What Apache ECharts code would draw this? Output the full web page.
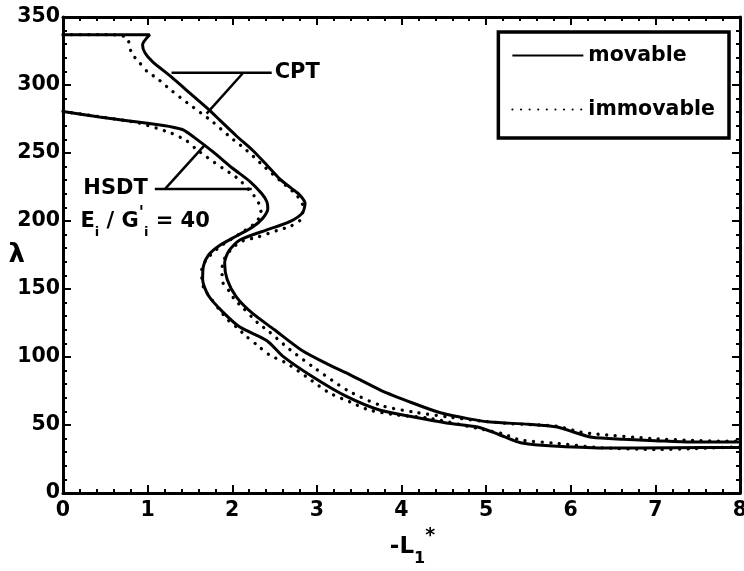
<!DOCTYPE html>
<html>
<head>
<meta charset="utf-8">
<title>Buckling load parameter vs -L1*</title>
<script src="https://cdn.jsdelivr.net/npm/echarts@6/dist/echarts.min.js"></script>
<style>
  html, body { margin: 0; padding: 0; background: #fff; }
  #chart { width: 744px; height: 571px; }
</style>
</head>
<body>
<div id="chart"></div>
<script>
// Axis ranges and tick spacing
const xRange = [0, 8];
const xStep = 1;
const yRange = [0, 350];
const yStep = 50;

// Legend entries
const legendNames = ['movable', 'immovable'];

// Curves: [-L1*, lambda]
const cptMovable = [
  [0, 337], [0.6, 337], [1.025, 337], [0.94, 329.5], [0.97, 323.5], [1.06, 317],
  [1.28, 306], [1.5, 294], [1.73, 281.6], [1.85, 274.3], [2.05, 262.5], [2.24, 252],
  [2.41, 241], [2.56, 231], [2.70, 224], [2.80, 219], [2.86, 213], [2.83, 206],
  [2.68, 199.5], [2.41, 193.5], [2.09, 186], [1.96, 178], [1.91, 169], [1.94, 157],
  [2.05, 144], [2.24, 132], [2.5, 120], [2.82, 105], [3.12, 95], [3.36, 88],
  [3.75, 75.7], [4.14, 66], [4.46, 59], [4.8, 54.5], [5.05, 52.2], [5.5, 50.5],
  [5.84, 48.5], [6.05, 44.5], [6.25, 41], [6.62, 39.5], [7.0, 38.5], [7.42, 37.5], [8, 37.5]
];
const cptImmovable = [
  [0, 337], [0.5, 337], [0.75, 335], [0.81, 323.5], [0.91, 316], [1.0, 309.6],
  [1.11, 305], [1.28, 296], [1.47, 286.8], [1.77, 272.8], [1.97, 262], [2.17, 252],
  [2.36, 241], [2.56, 230], [2.76, 219], [2.84, 210], [2.80, 200.5], [2.68, 196],
  [2.53, 193], [2.29, 188], [2.13, 185.5], [2.0, 180], [1.89, 170], [1.88, 162],
  [1.89, 154.5], [1.97, 148], [2.03, 142], [2.13, 136], [2.23, 129.5], [2.33, 123.5],
  [2.41, 120], [2.68, 105.5], [2.96, 92.5], [3.36, 75.5], [3.75, 64.5], [4.14, 59.5],
  [4.54, 56], [4.93, 53], [5.3, 51], [5.84, 49], [6.1, 45], [6.27, 43.5],
  [6.98, 40], [7.5, 38.5], [8, 38]
];
const hsdtMovable = [
  [0, 280.5], [0.43, 276.5], [1.0, 271.8], [1.3, 269], [1.42, 267], [1.55, 261.5],
  [1.77, 251], [2.0, 239], [2.21, 229], [2.35, 220], [2.41, 214], [2.42, 209],
  [2.36, 202], [2.25, 196], [2.05, 189], [1.85, 182], [1.72, 175], [1.66, 167],
  [1.65, 157], [1.72, 145], [1.89, 133], [2.09, 122], [2.41, 112], [2.6, 100.5],
  [2.95, 85.5], [3.35, 71], [3.74, 61], [4.13, 56], [4.53, 51.5], [4.9, 48.5],
  [5.15, 43], [5.35, 38], [5.5, 36], [5.84, 34.3], [6.43, 33], [7.2, 33.3], [8, 33.5]
];
const hsdtImmovable = [
  [0, 280.5], [0.5, 276], [0.9, 272], [1.26, 265], [1.45, 259.5], [1.58, 252.5],
  [1.70, 247], [1.79, 243], [1.89, 238.7], [1.99, 234.6], [2.09, 230], [2.27, 217.6],
  [2.32, 212], [2.34, 206], [2.28, 199], [2.1, 191], [1.85, 181], [1.7, 172],
  [1.64, 165], [1.64, 156], [1.67, 150], [1.76, 142], [1.85, 134.6], [1.95, 127.2],
  [2.05, 122], [2.17, 115], [2.29, 109], [2.44, 101.5], [2.64, 95.5], [2.88, 85.3],
  [3.15, 73.5], [3.39, 67], [3.62, 61], [3.94, 57.4], [4.33, 55], [4.9, 47.5],
  [5.2, 43.5], [5.4, 39], [5.84, 36.5], [6.3, 33.5], [7.0, 32], [7.4, 32.5], [8, 34]
];

// Leader lines for the curve labels
const cptLeaderH = [[1.283, 309], [2.466, 309]];
const cptLeaderD = [[2.13, 309], [1.697, 279]];
const hsdtLeaderH = [[1.085, 223.5], [2.23, 223.5]];
const hsdtLeaderD = [[1.204, 223.5], [1.677, 256]];

// Curve labels: anchor point, text, side
const labelAnchors = [[2.466, 309], [1.085, 223.5], [0.17, 199.5]];
const labelTexts = ['CPT', 'HSDT', '{m|E}{s|i}{m| / G}{p|\'}{s|i}{m| = 40}'];
const labelSides = ['right', 'left', 'right'];

const FONT = 'DejaVu Sans, Liberation Sans, Arial, sans-serif';
const chart = echarts.init(document.getElementById('chart'), null, { renderer: 'canvas' });

const solidStyle = { color: '#000', width: 3, type: 'solid' };
const dottedStyle = { color: '#000', width: 3.3, type: [0.1, 8.5], cap: 'round' };

function curve(name, data, style) {
  return {
    name: name, type: 'line', data: data, symbol: 'none', smooth: 0.25,
    lineStyle: style, itemStyle: { color: '#000' }, silent: true, z: 3
  };
}
function leader(data) {
  return {
    type: 'line', data: data, symbol: 'none', silent: true,
    lineStyle: { color: '#000', width: 2.5 }, z: 3
  };
}

const axisCommon = {
  axisLine: { show: true, onZero: false, lineStyle: { color: '#000', width: 3 } },
  axisTick: { show: true, inside: true, length: 8, lineStyle: { color: '#000', width: 2 } },
  minorTick: { show: true, splitNumber: 5, length: 4, lineStyle: { color: '#000', width: 2 } },
  splitLine: { show: false },
  minorSplitLine: { show: false }
};
const labelStyle = { color: '#000', fontSize: 20.5, fontWeight: 'bold', fontFamily: FONT };
const annoStyle = { color: '#000', fontSize: 21, fontWeight: 'bold', fontFamily: FONT };

chart.setOption({
  animation: false,
  backgroundColor: '#fff',
  grid: { left: 63, right: 4, top: 17, bottom: 78, containLabel: false, outerBoundsMode: 'none' },
  legend: {
    data: legendNames,
    orient: 'vertical',
    right: 15, top: 32,
    itemWidth: 71, itemHeight: 12, itemGap: 33,
    padding: [13, 14, 18, 13],
    borderColor: '#000', borderWidth: 3.5,
    backgroundColor: '#fff',
    textStyle: labelStyle,
    itemStyle: { opacity: 0 },
    selectedMode: false
  },
  xAxis: [
    Object.assign({
      type: 'value', position: 'bottom', min: xRange[0], max: xRange[1], interval: xStep,
      axisLabel: Object.assign({ margin: 7 }, labelStyle),
      name: '{a|-L}{b|1}{c|*}',
      nameLocation: 'middle', nameGap: 34, nameMoveOverlap: false,
      nameTextStyle: {
        padding: [0, 0, 0, 22],
        rich: {
          a: { fontSize: 23, fontWeight: 'bold', fontFamily: FONT, color: '#000', lineHeight: 40 },
          b: { fontSize: 16, fontWeight: 'bold', fontFamily: FONT, color: '#000', lineHeight: 14, verticalAlign: 'bottom' },
          c: { fontSize: 19, fontWeight: 'bold', fontFamily: FONT, color: '#000', lineHeight: 6, verticalAlign: 'top' }
        }
      }
    }, axisCommon),
    Object.assign({
      type: 'value', position: 'top', min: xRange[0], max: xRange[1], interval: xStep,
      axisLabel: { show: false }
    }, axisCommon)
  ],
  yAxis: [
    Object.assign({
      type: 'value', position: 'left', min: yRange[0], max: yRange[1], interval: yStep,
      axisLabel: Object.assign({ margin: 3 }, labelStyle),
      name: 'λ', nameLocation: 'middle', nameRotate: 0, nameGap: 38, nameMoveOverlap: false,
      nameTextStyle: { fontSize: 26, fontWeight: 'bold', fontFamily: FONT, color: '#000' }
    }, axisCommon),
    Object.assign({
      type: 'value', position: 'right', min: yRange[0], max: yRange[1], interval: yStep,
      axisLabel: { show: false }
    }, axisCommon)
  ],
  series: [
    curve(legendNames[0], cptMovable, solidStyle),
    curve(legendNames[1], cptImmovable, dottedStyle),
    curve(legendNames[0], hsdtMovable, solidStyle),
    curve(legendNames[1], hsdtImmovable, dottedStyle),
    leader(cptLeaderH), leader(cptLeaderD), leader(hsdtLeaderH), leader(hsdtLeaderD),
    {
      type: 'scatter', symbolSize: 0, silent: true, z: 4,
      itemStyle: { color: '#000' },
      data: labelAnchors.map((p, i) => ({
        value: p,
        label: Object.assign({
          show: true, position: labelSides[i], distance: i === 1 ? 7 : 3,
          formatter: labelTexts[i], opacity: 1
        }, annoStyle)
      })),
      label: Object.assign({
        rich: {
          m: Object.assign({ lineHeight: 34 }, annoStyle),
          s: { fontSize: 13, fontWeight: 'bold', fontFamily: FONT, color: '#000', lineHeight: 11, verticalAlign: 'bottom' },
          p: { fontSize: 17, fontWeight: 'bold', fontFamily: FONT, color: '#000', lineHeight: 15, verticalAlign: 'top' }
        }
      }, annoStyle),
      emphasis: { disabled: true }
    }
  ]
});
</script>
</body>
</html>
